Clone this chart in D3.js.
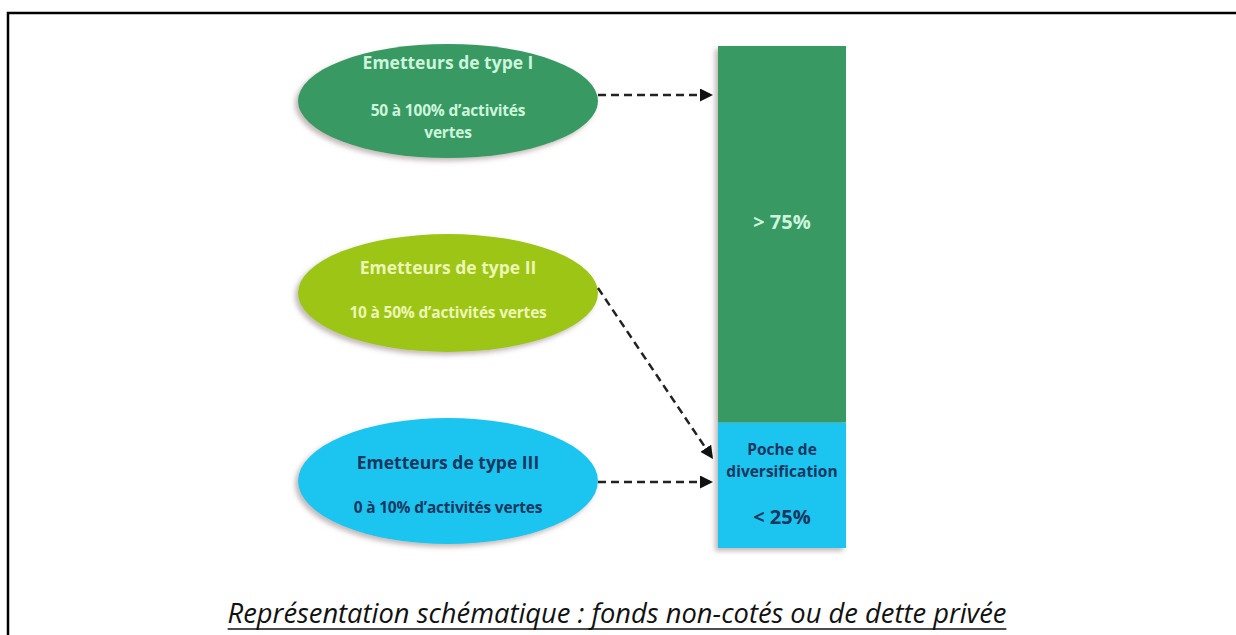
<!DOCTYPE html>
<html>
<head>
<meta charset="utf-8">
<script src="https://cdn.jsdelivr.net/npm/d3@7"></script>
<style>
  html, body { margin: 0; padding: 0; background: #fff; }
  svg { display: block; }
</style>
</head>
<body>
<svg width="1236" height="635"></svg>
<script>
// data
var emitterTitles = ["Emetteurs de type I", "Emetteurs de type II", "Emetteurs de type III"];
var emitterLines = [["50 à 100% d\u2019activités", "vertes"], ["10 à 50% d\u2019activités vertes"], ["0 à 10% d\u2019activités vertes"]];
var segmentNames = ["Poche de diversification", "Vert"];
var segmentValues = [25, 75];
var segmentLabels = ["< 25%", "> 75%"];
var emitterTarget = [1, 0, 0];   // which segment each arrow points to
var caption = "Représentation schématique : fonds non-cotés ou de dette privée";

// styles
var ellipseFill = ["#389964", "#9cc514", "#1ec4f0"];
var ellipseText = ["#cdf5dc", "#eef6b4", "#17375e"];
var segmentFill = ["#1ec4f0", "#389964"];
var segmentText = ["#17375e", "#cdf5dc"];

var svg = d3.select("svg"),
    width = +svg.attr("width"),
    height = +svg.attr("height");

var font = "'Open Sans', Lato, sans-serif";

// frame (only top & left visible)
svg.append("path")
    .attr("d", "M8,635 L8,13 L1236,13")
    .attr("fill", "none")
    .attr("stroke", "#000")
    .attr("stroke-width", 2.5);

var defs = svg.append("defs");
defs.append("filter").attr("id", "shadow")
    .attr("x", "-10%").attr("y", "-10%").attr("width", "120%").attr("height", "130%")
  .append("feDropShadow")
    .attr("dx", -3).attr("dy", 3).attr("stdDeviation", 2.5)
    .attr("flood-color", "#6b5050").attr("flood-opacity", 0.4);

defs.append("marker")
    .attr("id", "arrow")
    .attr("viewBox", "0 0 10 10")
    .attr("refX", 10).attr("refY", 5)
    .attr("markerWidth", 5.2).attr("markerHeight", 5.2)
    .attr("markerUnits", "strokeWidth")
    .attr("orient", "auto")
  .append("path")
    .attr("d", "M0,0 L10,5 L0,10 z")
    .attr("fill", "#111");

// bar
var barX = 718, barW = 128;
var y = d3.scaleLinear().domain([0, d3.sum(segmentValues)]).range([548, 46]);

var stacked = [];
var acc = 0;
segmentValues.forEach(function(v, i) {
  stacked.push({ i: i, y0: acc, y1: acc + v });
  acc += v;
});

var bar = svg.append("g").attr("filter", "url(#shadow)");
bar.selectAll("rect")
    .data(stacked)
    .enter().append("rect")
    .attr("x", barX)
    .attr("width", barW)
    .attr("y", function(d) { return y(d.y1); })
    .attr("height", function(d) { return y(d.y0) - y(d.y1); })
    .attr("fill", function(d) { return segmentFill[d.i]; });

// green label
svg.append("text")
    .attr("x", barX + barW / 2).attr("y", 229)
    .attr("text-anchor", "middle")
    .attr("font-family", font).attr("font-weight", "bold").attr("font-size", 20)
    .attr("fill", segmentText[1])
    .text(segmentLabels[1]);

// diversification labels
var divWords = ["Poche de", "diversification"];
svg.selectAll("text.div")
    .data(divWords)
    .enter().append("text")
    .attr("class", "div")
    .attr("x", barX + barW / 2)
    .attr("y", function(d, i) { return 455 + i * 22; })
    .attr("text-anchor", "middle")
    .attr("font-family", font).attr("font-weight", "bold").attr("font-size", 15.5)
    .attr("fill", segmentText[0])
    .text(function(d) { return d; });

svg.append("text")
    .attr("x", barX + barW / 2).attr("y", 524)
    .attr("text-anchor", "middle")
    .attr("font-family", font).attr("font-weight", "bold").attr("font-size", 20)
    .attr("fill", segmentText[0])
    .text(segmentLabels[0]);

// ellipses
var cx = 448, rx = 150;
var cys = [101, 293, 481];
var rys = [57, 59, 63];

var nodes = svg.append("g").selectAll("g")
    .data(emitterTitles)
    .enter().append("g");

nodes.append("ellipse")
    .attr("cx", cx)
    .attr("cy", function(d, i) { return cys[i]; })
    .attr("rx", rx)
    .attr("ry", function(d, i) { return rys[i]; })
    .attr("fill", function(d, i) { return ellipseFill[i]; })
    .attr("filter", "url(#shadow)");

var titleY = [69, 274, 469];
var lineY = [116, 318, 513];

nodes.append("text")
    .attr("x", cx)
    .attr("y", function(d, i) { return titleY[i]; })
    .attr("text-anchor", "middle")
    .attr("font-family", font).attr("font-weight", "bold").attr("font-size", 17.5)
    .attr("fill", function(d, i) { return ellipseText[i]; })
    .text(function(d) { return d; });

nodes.each(function(d, i) {
  d3.select(this).selectAll("text.sub")
      .data(emitterLines[i])
      .enter().append("text")
      .attr("class", "sub")
      .attr("x", cx)
      .attr("y", function(t, j) { return lineY[i] + j * 22; })
      .attr("text-anchor", "middle")
      .attr("font-family", font).attr("font-weight", "bold").attr("font-size", 15.5)
      .attr("letter-spacing", -0.2)
      .attr("fill", ellipseText[i])
      .text(function(t) { return t; });
});

// arrows
var arrowStart = [[598, 95], [598, 288], [598, 482]];
var arrowEnd = [[713, 95], [713, 459], [713, 482]];

svg.append("g").selectAll("line")
    .data(emitterTarget)
    .enter().append("line")
    .attr("x1", function(d, i) { return arrowStart[i][0]; })
    .attr("y1", function(d, i) { return arrowStart[i][1]; })
    .attr("x2", function(d, i) { return arrowEnd[i][0]; })
    .attr("y2", function(d, i) { return arrowEnd[i][1]; })
    .attr("stroke", "#222")
    .attr("stroke-width", 2.5)
    .attr("stroke-dasharray", "8,5")
    .attr("marker-end", "url(#arrow)");

// caption, sized to the width it has in the original
var capX = 617, capTarget = 779;
var cap = svg.append("text")
    .attr("x", capX).attr("y", 623)
    .attr("text-anchor", "middle")
    .attr("font-family", font).attr("font-style", "italic").attr("font-size", 24)
    .attr("fill", "#111")
    .text(caption);

var capW = cap.node().getComputedTextLength();
cap.attr("font-size", 24 * capTarget / capW);
capW = cap.node().getComputedTextLength();

svg.append("line")
    .attr("x1", capX - capW / 2).attr("x2", capX + capW / 2)
    .attr("y1", 629).attr("y2", 629)
    .attr("stroke", "#111").attr("stroke-width", 1.5);
</script>
</body>
</html>
